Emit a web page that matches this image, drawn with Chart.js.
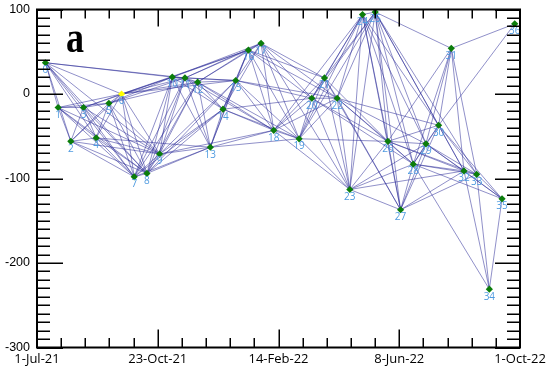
<!DOCTYPE html>
<html>
<head>
<meta charset="utf-8">
<script src="https://cdn.jsdelivr.net/npm/chart.js@4.4.1/dist/chart.umd.min.js"></script>
<style>
  html, body { margin: 0; padding: 0; background: #ffffff; }
  #wrap { width: 550px; height: 367px; }
</style>
</head>
<body>
<div id="wrap"><canvas id="c" width="550" height="367"></canvas></div>
<script>
// ---- data ----
// acquisition dates as days after 1-Jul-21
const acqDays = [8, 20, 32, 44, 56, 68, 80, 92, 104, 116, 128, 140, 152, 164, 176, 188, 200, 212, 224,
                 248, 260, 272, 284, 296, 308, 320, 332, 344, 356, 368, 380, 392, 404, 416, 428, 440, 452];
// perpendicular baseline of each acquisition
const baselines = [37, -16, -56, -16, -52, -11, 0, -98, -94, -71, 20, 19, 14, -63, -18, 16, 52, 60, -43,
                   -53, -5, 19, -5, -113, 94, 97, -56, -137, -83, -59, -37, 54, -91, -95, -231, -124, 83];
const superMaster = 6;
// interferometric pairs (index pairs)
const pairs = [
  [0,1],[0,2],[0,3],[0,4],[0,6],[0,7],[0,8],[0,9],[0,10],[0,11],
  [1,2],[1,3],[1,4],[1,5],[1,6],[1,7],[1,8],[1,9],
  [2,3],[2,4],[2,5],[2,6],[2,7],[2,8],[2,9],
  [3,4],[3,5],[3,6],[3,7],[3,8],[3,9],[3,10],
  [4,5],[4,6],[4,7],[4,8],[4,9],[4,13],
  [5,6],[5,7],[5,8],[5,9],[5,10],[5,11],[5,12],
  [6,7],[6,8],[6,9],[6,10],[6,11],[6,12],[6,15],[6,16],
  [7,8],[7,9],[7,10],[7,11],[7,12],[7,13],[7,14],
  [8,9],[8,10],[8,11],[8,12],[8,13],[8,14],[8,15],
  [9,10],[9,11],[9,12],[9,13],[9,14],[9,15],[9,18],
  [10,11],[10,12],[10,13],[10,14],[10,15],[10,16],[10,17],
  [11,12],[11,13],[11,14],[11,15],[11,16],[11,17],[11,18],
  [12,13],[12,14],[12,15],[12,16],[12,17],[12,18],[12,19],
  [13,14],[13,15],[13,16],[13,18],[13,19],
  [14,15],[14,16],[14,17],[14,18],[14,19],[14,20],
  [15,16],[15,17],[15,18],[15,19],[15,20],[15,22],
  [16,17],[16,18],[16,19],[16,20],[16,21],[16,22],
  [17,18],[17,19],[17,20],[17,21],[17,22],[17,23],
  [18,19],[18,20],[18,21],[18,22],[18,23],[18,24],
  [19,20],[19,21],[19,22],[19,23],[19,24],[19,25],[19,26],
  [20,21],[20,22],[20,23],[20,24],[20,25],[20,26],[20,28],
  [21,22],[21,23],[21,24],[21,25],[21,26],[21,27],
  [22,23],[22,24],[22,25],[22,26],[22,27],[22,28],[22,29],[22,30],
  [23,24],[23,25],[23,26],[23,27],[23,28],[23,29],[23,32],
  [24,25],[24,26],[24,27],[24,28],[24,29],[24,30],
  [25,26],[25,27],[25,28],[25,29],[25,30],[25,31],[25,32],[25,33],
  [26,27],[26,28],[26,29],[26,30],[26,31],[26,32],[26,33],
  [27,28],[27,29],[27,30],[27,32],[27,33],
  [28,29],[28,30],[28,31],[28,32],[28,33],[28,34],[28,35],
  [29,30],[29,31],[29,32],[29,33],[29,35],
  [30,31],[30,32],[30,33],[30,35],[30,36],
  [31,32],[31,33],[31,36],
  [32,33],[32,34],[32,35],
  [33,34],[33,35],
  [34,35]
];
// axis ticks
const xMajorDays = [0, 114.25, 228.5, 342.75, 457];
const xTickLabels = ['1-Jul-21', '23-Oct-21', '14-Feb-22', '8-Jun-22', '1-Oct-22'];
const xMinorPerMajor = 5;
const yMajorTicks = [-300, -200, -100, 0, 100];
const yMinorStep = 10;
const panelLetter = 'a';

// ---- chart ----
const pointData = acqDays.map((d, i) => ({ x: d, y: baselines[i] }));

const pairDatasets = pairs.map(([a, b]) => ({
  type: 'line',
  data: [{ x: acqDays[a], y: baselines[a] }, { x: acqDays[b], y: baselines[b] }],
  borderColor: 'rgba(40,40,150,0.58)',
  borderWidth: 0.9,
  pointRadius: 0,
  fill: false,
  tension: 0
}));

const decorPlugin = {
  id: 'decor',
  afterDatasetsDraw(chart) {
    const ctx = chart.ctx;
    const meta = chart.getDatasetMeta(0);
    ctx.save();
    ctx.font = '10px "Open Sans", sans-serif';
    ctx.fillStyle = '#4f9be0';
    ctx.textAlign = 'center';
    ctx.textBaseline = 'top';
    meta.data.forEach((el, i) => {
      ctx.fillText(String(i), el.x, el.y + 2.5);
    });
    ctx.restore();
  },
  afterDraw(chart) {
    const ctx = chart.ctx;
    const a = chart.chartArea;
    const xs = chart.scales.x, ys = chart.scales.y;
    ctx.save();
    ctx.strokeStyle = '#000';
    ctx.lineWidth = 1.5;
    ctx.beginPath();
    const yMin = yMajorTicks[0], yMax = yMajorTicks[yMajorTicks.length - 1];
    for (let v = yMin; v <= yMax; v += yMinorStep) {
      const y = Math.round(ys.getPixelForValue(v)) + 0.25;
      const major = yMajorTicks.includes(v);
      const lenL = major ? 26 : 13, lenR = major ? 25 : 13;
      ctx.moveTo(a.left, y); ctx.lineTo(a.left + lenL, y);
      ctx.moveTo(a.right, y); ctx.lineTo(a.right - lenR, y);
    }
    for (let k = 0; k < xMajorDays.length; k++) {
      const steps = k < xMajorDays.length - 1 ? xMinorPerMajor : 1;
      for (let s = 0; s < steps; s++) {
        let v = xMajorDays[k];
        if (s > 0) v = xMajorDays[k] + (xMajorDays[k + 1] - xMajorDays[k]) * s / xMinorPerMajor;
        const x = Math.round(xs.getPixelForValue(v)) + 0.25;
        const major = s === 0;
        ctx.moveTo(x, a.bottom); ctx.lineTo(x, a.bottom - (major ? 18 : 9.5));
        ctx.moveTo(x, a.top); ctx.lineTo(x, a.top + (major ? 17 : 9));
      }
    }
    ctx.stroke();
    ctx.lineWidth = 2;
    ctx.strokeRect(a.left, a.top, a.right - a.left, a.bottom - a.top);
    ctx.fillStyle = '#000';
    ctx.font = 'bold 44px "Liberation Serif", "Times New Roman", serif';
    ctx.textBaseline = 'alphabetic';
    ctx.textAlign = 'left';
    ctx.translate(66, 52);
    ctx.scale(0.82, 1);
    ctx.fillText(panelLetter, 0, 0);
    ctx.restore();
  }
};

new Chart(document.getElementById('c'), {
  type: 'scatter',
  data: {
    datasets: [
      {
        type: 'scatter',
        data: pointData,
        pointStyle: 'rectRot',
        pointRadius: 3.6,
        pointBorderWidth: 0,
        backgroundColor: ctx => ctx.dataIndex === superMaster ? '#ffff00' : '#0b7d0b',
        borderColor: ctx => ctx.dataIndex === superMaster ? '#ffff00' : '#0b7d0b'
      },
      ...pairDatasets
    ]
  },
  options: {
    responsive: false,
    animation: false,
    devicePixelRatio: 1,
    layout: { padding: { top: 9.5, right: 30, left: 0, bottom: 0 } },
    plugins: { legend: { display: false }, tooltip: { enabled: false } },
    scales: {
      x: {
        type: 'linear',
        min: xMajorDays[0],
        max: xMajorDays[xMajorDays.length - 1],
        grid: { display: false, drawTicks: false },
        border: { display: false },
        afterBuildTicks: s => { s.ticks = xMajorDays.map(v => ({ value: v })); },
        afterFit: s => { s.height = 19.5; s.paddingLeft = 0; s.paddingRight = 0; },
        ticks: {
          autoSkip: false, maxRotation: 0, minRotation: 0, padding: 4,
          color: '#000',
          font: { family: '"Open Sans", sans-serif', size: 13 },
          callback: (v, i) => xTickLabels[i]
        }
      },
      y: {
        type: 'linear',
        min: yMajorTicks[0],
        max: yMajorTicks[yMajorTicks.length - 1],
        grid: { display: false, drawTicks: false },
        border: { display: false },
        afterBuildTicks: s => { s.ticks = yMajorTicks.map(v => ({ value: v })); },
        afterFit: s => { s.width = 37; s.paddingTop = 0; s.paddingBottom = 0; },
        ticks: {
          padding: 7,
          color: '#000',
          font: { family: '"Liberation Sans", Arial, sans-serif', size: 12.5 },
          callback: v => String(v)
        }
      }
    }
  },
  plugins: [decorPlugin]
});
</script>
</body>
</html>
